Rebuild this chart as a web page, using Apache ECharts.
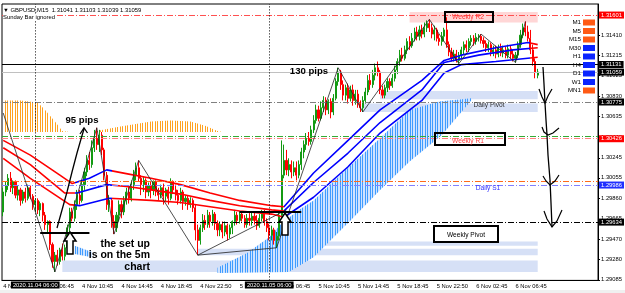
<!DOCTYPE html>
<html>
<head>
<meta charset="utf-8">
<script src="https://cdn.jsdelivr.net/npm/echarts@6/dist/echarts.min.js"></script>
<style>
html,body{margin:0;padding:0;background:#fff}
#chart{width:625px;height:293px}
</style>
</head>
<body>
<div id="chart"></div>
<script>
// GBPUSD M15, 4 - 6 Nov 2020
const xLabels = ['4 Nov 02:45','4 Nov 06:45','4 Nov 10:45','4 Nov 14:45','4 Nov 18:45','4 Nov 22:50',
  '5 Nov 02:45','5 Nov 06:45','5 Nov 10:45','5 Nov 14:45','5 Nov 18:45','5 Nov 22:50','6 Nov 02:45','6 Nov 06:45'];
const yTicks = [1.29085,1.29280,1.29470,1.29665,1.29860,1.30055,1.30245,1.30440,1.30635,1.30830,1.31025,1.31215,1.31410];

// [open, close, low, high]
const candles = [
[1.2973,1.2992,1.2969,1.2996],[1.2992,1.2998,1.2988,1.3002],[1.2998,1.3005,1.2994,1.3009],[1.3005,1.2996,1.2992,1.3011],
[1.2996,1.3002,1.2990,1.3003],[1.3002,1.2989,1.2986,1.3003],[1.2989,1.2994,1.2984,1.2998],[1.2994,1.2984,1.2979,1.2996],
[1.2984,1.2992,1.2981,1.2994],[1.2992,1.2986,1.2982,1.2996],[1.2986,1.2996,1.2984,1.2999],[1.2996,1.2988,1.2985,1.2998],
[1.2988,1.2980,1.2975,1.2990],[1.2980,1.2984,1.2973,1.2986],[1.2984,1.2975,1.2971,1.2986],[1.2975,1.2981,1.2969,1.2983],
[1.2981,1.2970,1.2964,1.2982],[1.2970,1.2961,1.2956,1.2973],[1.2961,1.2964,1.2954,1.2965],[1.2964,1.2942,1.2937,1.2965],
[1.2942,1.2926,1.2920,1.2944],[1.2926,1.2932,1.2916,1.2935],[1.2932,1.2926,1.2922,1.2937],[1.2926,1.2937,1.2923,1.2939],
[1.2937,1.2931,1.2927,1.2943],[1.2931,1.2939,1.2927,1.2942],[1.2939,1.2958,1.2935,1.2961],[1.2958,1.2973,1.2954,1.2977],
[1.2973,1.2967,1.2964,1.2977],[1.2967,1.2980,1.2964,1.2984],[1.2980,1.2989,1.2975,1.2994],[1.2989,1.2984,1.2980,1.2994],
[1.2984,1.2999,1.2982,1.3003],[1.2999,1.3011,1.2994,1.3015],[1.3011,1.3022,1.3007,1.3027],[1.3022,1.3018,1.3013,1.3030],
[1.3018,1.3034,1.3015,1.3041],[1.3034,1.3043,1.3030,1.3051],[1.3043,1.3037,1.3032,1.3053],[1.3037,1.3046,1.3030,1.3051],
[1.3046,1.3032,1.3027,1.3049],[1.3032,1.3008,1.3003,1.3034],[1.3008,1.2980,1.2975,1.3011],[1.2980,1.2984,1.2973,1.2989],
[1.2984,1.2964,1.2958,1.2986],[1.2964,1.2958,1.2952,1.2970],[1.2958,1.2970,1.2954,1.2973],[1.2970,1.2980,1.2964,1.2984],
[1.2980,1.2973,1.2967,1.2984],[1.2973,1.2984,1.2970,1.2988],[1.2984,1.2992,1.2980,1.2996],[1.2992,1.2986,1.2981,1.2998],
[1.2986,1.2999,1.2983,1.3003],[1.2999,1.3008,1.2994,1.3013],[1.3008,1.3015,1.3003,1.3020],[1.3015,1.3005,1.3002,1.3022],
[1.3005,1.2999,1.2989,1.3008],[1.2999,1.3003,1.2992,1.3007],[1.3003,1.2992,1.2986,1.3005],[1.2992,1.2998,1.2988,1.3001],
[1.2998,1.2994,1.2986,1.3002],[1.2994,1.3002,1.2989,1.3003],[1.3002,1.2992,1.2988,1.3003],[1.2992,1.2989,1.2984,1.2996],
[1.2989,1.2996,1.2986,1.2999],[1.2996,1.2988,1.2980,1.3000],[1.2988,1.2994,1.2983,1.2996],[1.2994,1.2986,1.2980,1.2997],
[1.2986,1.3002,1.2984,1.3005],[1.3002,1.2994,1.2990,1.3003],[1.2994,1.2989,1.2984,1.2999],[1.2989,1.2984,1.2980,1.2994],
[1.2984,1.2992,1.2981,1.2996],[1.2992,1.2983,1.2975,1.2994],[1.2983,1.2986,1.2979,1.2989],[1.2986,1.2980,1.2975,1.2989],
[1.2980,1.2984,1.2977,1.2987],[1.2984,1.2977,1.2973,1.2986],[1.2977,1.2956,1.2946,1.2980],[1.2956,1.2946,1.2932,1.2961],
[1.2946,1.2958,1.2942,1.2961],[1.2958,1.2965,1.2954,1.2971],[1.2965,1.2961,1.2956,1.2970],[1.2961,1.2970,1.2958,1.2975],
[1.2970,1.2964,1.2958,1.2973],[1.2964,1.2971,1.2960,1.2975],[1.2971,1.2962,1.2956,1.2973],[1.2962,1.2956,1.2950,1.2965],
[1.2956,1.2961,1.2950,1.2964],[1.2961,1.2954,1.2948,1.2964],[1.2954,1.2960,1.2950,1.2964],[1.2960,1.2952,1.2946,1.2962],
[1.2952,1.2958,1.2948,1.2961],[1.2958,1.2964,1.2952,1.2965],[1.2964,1.2970,1.2960,1.2975],[1.2970,1.2965,1.2961,1.2973],
[1.2965,1.2971,1.2962,1.2974],[1.2971,1.2967,1.2964,1.2973],[1.2967,1.2961,1.2958,1.2970],[1.2961,1.2967,1.2958,1.2971],
[1.2967,1.2965,1.2960,1.2972],[1.2965,1.2969,1.2960,1.2973],[1.2969,1.2965,1.2961,1.2973],[1.2965,1.2960,1.2956,1.2970],
[1.2960,1.2967,1.2958,1.2971],[1.2967,1.2971,1.2964,1.2975],[1.2971,1.2964,1.2960,1.2975],[1.2964,1.2958,1.2954,1.2967],
[1.2958,1.2951,1.2946,1.2962],[1.2951,1.2956,1.2946,1.2960],[1.2956,1.2946,1.2942,1.2958],[1.2946,1.2950,1.2939,1.2954],
[1.2950,1.2970,1.2946,1.2973],[1.2970,1.3008,1.2967,1.3041],[1.3008,1.3022,1.3005,1.3037],[1.3022,1.3013,1.3008,1.3032],
[1.3013,1.3018,1.3007,1.3024],[1.3018,1.3011,1.3005,1.3022],[1.3011,1.3015,1.3007,1.3021],[1.3015,1.3008,1.3003,1.3021],
[1.3008,1.3018,1.3005,1.3022],[1.3018,1.3030,1.3013,1.3034],[1.3030,1.3037,1.3024,1.3041],[1.3037,1.3043,1.3032,1.3048],
[1.3043,1.3040,1.3036,1.3049],[1.3040,1.3051,1.3037,1.3055],[1.3051,1.3060,1.3048,1.3065],[1.3060,1.3070,1.3057,1.3075],
[1.3070,1.3062,1.3059,1.3074],[1.3062,1.3072,1.3060,1.3078],[1.3072,1.3079,1.3068,1.3083],[1.3079,1.3070,1.3065,1.3082],
[1.3070,1.3078,1.3066,1.3080],[1.3078,1.3068,1.3062,1.3081],[1.3068,1.3081,1.3065,1.3085],[1.3081,1.3097,1.3079,1.3100],
[1.3097,1.3106,1.3093,1.3110],[1.3106,1.3094,1.3089,1.3108],[1.3094,1.3084,1.3079,1.3098],[1.3084,1.3091,1.3079,1.3094],
[1.3091,1.3081,1.3076,1.3095],[1.3081,1.3089,1.3078,1.3093],[1.3089,1.3079,1.3074,1.3094],[1.3079,1.3085,1.3075,1.3089],
[1.3085,1.3076,1.3072,1.3089],[1.3076,1.3072,1.3068,1.3079],[1.3072,1.3079,1.3068,1.3083],[1.3079,1.3087,1.3076,1.3091],
[1.3087,1.3098,1.3084,1.3103],[1.3098,1.3094,1.3089,1.3104],[1.3094,1.3103,1.3091,1.3108],[1.3103,1.3110,1.3098,1.3114],
[1.3110,1.3106,1.3102,1.3116],[1.3106,1.3089,1.3085,1.3108],[1.3089,1.3084,1.3081,1.3093],[1.3084,1.3091,1.3081,1.3094],
[1.3091,1.3097,1.3087,1.3100],[1.3097,1.3093,1.3089,1.3100],[1.3093,1.3100,1.3091,1.3104],[1.3100,1.3108,1.3097,1.3112],
[1.3108,1.3116,1.3104,1.3119],[1.3116,1.3122,1.3112,1.3127],[1.3122,1.3119,1.3116,1.3129],[1.3119,1.3127,1.3117,1.3131],
[1.3127,1.3135,1.3123,1.3138],[1.3135,1.3131,1.3127,1.3140],[1.3131,1.3138,1.3129,1.3143],[1.3138,1.3144,1.3135,1.3148],
[1.3144,1.3140,1.3136,1.3149],[1.3140,1.3146,1.3136,1.3150],[1.3146,1.3142,1.3138,1.3151],[1.3142,1.3148,1.3139,1.3153],
[1.3148,1.3152,1.3144,1.3155],[1.3152,1.3148,1.3144,1.3156],[1.3148,1.3142,1.3138,1.3152],[1.3142,1.3146,1.3136,1.3150],
[1.3146,1.3138,1.3135,1.3148],[1.3138,1.3135,1.3131,1.3142],[1.3135,1.3140,1.3131,1.3144],[1.3140,1.3146,1.3135,1.3148],
[1.3146,1.3132,1.3129,1.3158],[1.3132,1.3125,1.3121,1.3135],[1.3125,1.3119,1.3116,1.3129],[1.3119,1.3123,1.3116,1.3127],
[1.3123,1.3117,1.3115,1.3127],[1.3117,1.3122,1.3114,1.3125],[1.3122,1.3127,1.3119,1.3130],[1.3127,1.3132,1.3123,1.3135],
[1.3132,1.3129,1.3125,1.3136],[1.3129,1.3135,1.3125,1.3138],[1.3135,1.3138,1.3131,1.3141],[1.3138,1.3135,1.3131,1.3141],
[1.3135,1.3139,1.3132,1.3143],[1.3139,1.3140,1.3135,1.3142],[1.3140,1.3136,1.3133,1.3142],[1.3136,1.3133,1.3129,1.3139],
[1.3133,1.3129,1.3125,1.3136],[1.3129,1.3132,1.3125,1.3135],[1.3132,1.3125,1.3121,1.3134],[1.3125,1.3127,1.3121,1.3131],
[1.3127,1.3123,1.3119,1.3131],[1.3123,1.3129,1.3120,1.3132],[1.3129,1.3124,1.3121,1.3133],[1.3124,1.3127,1.3120,1.3131],
[1.3127,1.3122,1.3119,1.3130],[1.3122,1.3128,1.3119,1.3132],[1.3128,1.3123,1.3119,1.3131],[1.3123,1.3119,1.3116,1.3127],
[1.3119,1.3122,1.3115,1.3125],[1.3122,1.3132,1.3119,1.3135],[1.3132,1.3141,1.3129,1.3146],[1.3141,1.3148,1.3138,1.3152],
[1.3148,1.3144,1.3140,1.3154],[1.3144,1.3138,1.3135,1.3150],[1.3138,1.3127,1.3123,1.3146],[1.3127,1.3116,1.3112,1.3132],
[1.3116,1.3106,1.3100,1.3119],[1.3103,1.3106,1.3100,1.3109]
];

// moving averages, read at [bar, price]
const maFast = [[0,1.3041],[11,1.3027],[23,1.3008],[28,1.3000],[35,1.3005],[42,1.3013],[51,1.3009],[60,1.3005],[72,1.2999],[84,1.2991],[96,1.2984],[109,1.2979],[114,1.2978],[126,1.3010],[140,1.3041],[153,1.3070],[170,1.3098],[179,1.3117],[186,1.3122],[200,1.3129],[213,1.3134],[217,1.3132]];
const maMid = [[0,1.3034],[11,1.3018],[25,1.2991],[30,1.2991],[42,1.2999],[51,1.2997],[60,1.2994],[72,1.2990],[84,1.2984],[96,1.2979],[109,1.2975],[114,1.2974],[126,1.3001],[140,1.3029],[153,1.3058],[170,1.3089],[179,1.3115],[193,1.3122],[207,1.3127],[217,1.3129]];
const maSlow = [[0,1.3024],[11,1.3005],[27,1.2980],[31,1.2979],[43,1.2986],[60,1.2984],[72,1.2982],[84,1.2978],[96,1.2974],[109,1.2971],[114,1.2968],[126,1.2987],[140,1.3016],[153,1.3048],[170,1.3079],[179,1.3105],[186,1.3113],[200,1.3116],[217,1.3120]];

const zigzag = [[0,1.3067],[21,1.2916],[38,1.3053],[45,1.2952],[55,1.3022],[79,1.2932],[111,1.2939],[136,1.3110],[146,1.3068],[173,1.3156],[185,1.3114],[194,1.3142],[208,1.3115],[212,1.3154]];
const trendLine = [[79,1.2932],[115,1.2975]];
const setupLine1 = [[15,1.2953],[35,1.2953]];
const setupLine2 = [[96,1.2973],[121,1.2973]];

const levelValues = [1.31601,1.31131,1.31059,1.30775,1.30447,1.30426,1.30025,1.29986,1.29634];
const vLineBars = [13,108];
const vLineLabels = ['2020.11.04 06:00','2020.11.05 06:00'];

const orangeTop = [[0,1.3079],[7,1.3079],[14,1.3077],[17,1.3070],[21,1.3059],[24,1.3050],[27,1.3049],[37,1.3049],[40,1.3051],[47,1.3054],[60,1.3059],[68,1.3060],[76,1.3059],[82,1.3055],[87,1.3050],[89,1.3049]];
const orangeBottom = [[0,1.3049],[89,1.3049]];
const blueTop = [[87,1.2920],[99,1.2934],[108,1.2949],[113,1.2962],[120,1.2975],[126,1.2984],[139,1.3013],[153,1.3043],[165,1.3070],[177,1.3078],[190,1.3081]];
const blueBottom = [[87,1.2915],[116,1.2916],[126,1.2930],[141,1.2965],[153,1.2994],[165,1.3021],[178,1.3046],[190,1.3079]];
const blueSmallTop = [[29,1.2941],[36,1.2935]];
const blueSmallBottom = [[29,1.2933],[36,1.2930]];

// [fromBar, toBar, upperPrice, lowerPrice]
const zoneRects = [[165,217,1.3163,1.3153],[153,217,1.3088,1.3080],[146,217,1.3076,1.3068],[108,217,1.2945,1.2941],[79,217,1.2938,1.2932],[24,217,1.2927,1.2916]];

const tfNames = ['M1','M5','M15','M30','H1','H4','D1','W1','MN1'];
const tfUp = [false,false,false,true,true,true,true,true,false];

const FONT = '"Liberation Sans", "DejaVu Sans", sans-serif';
const dashDot = [6,2,1,2];
const levelStyles = [
  {color:'#ff5050', type:dashDot, tag:'#ff0000'},
  {color:'#000000', type:'solid', tag:'#000000'},
  {color:'#c0c0c0', type:'solid', tag:'#000000'},
  {color:'#808080', type:dashDot, tag:'#000000'},
  {color:'#33aa33', type:dashDot, tag:null},
  {color:'#ff8080', type:dashDot, tag:'#ff0000'},
  {color:'#ff6a1a', type:dashDot, tag:null},
  {color:'#8080ff', type:dashDot, tag:'#2030ff'},
  {color:'#000000', type:dashDot, tag:'#000000'}
];
const zoneColors = ['#ffd6d6','#d6e0f6','#d6e0f6','#d6e0f6','#d6e0f6','#d6e0f6'];

function stripes(line, back) {
  const c = document.createElement('canvas');
  c.width = 5; c.height = 2;
  const g = c.getContext('2d');
  if (back) { g.fillStyle = back; g.fillRect(0, 0, 5, 2); }
  g.fillStyle = line;
  g.fillRect(0, 0, 1, 2);
  g.fillRect(2, 0, 1, 2);
  return { image: c, repeat: 'repeat' };
}

function cloud(top, bottom, fill) {
  return {
    type: 'custom', z: 1, silent: true, clip: true,
    data: [top[0]],
    renderItem: function (params, api) {
      const pts = top.map(p => api.coord(p)).concat(bottom.slice().reverse().map(p => api.coord(p)));
      return { type: 'polygon', shape: { points: pts }, style: { fill: fill } };
    }
  };
}

const cats = [];
for (let i = 0; i < 242; i++) cats.push(i);
const tickShown = i => i % 16 === 0 && i / 16 < xLabels.length;

const levelLines = levelValues.map((v, k) => ({
  yAxis: v,
  lineStyle: { color: levelStyles[k].color, type: levelStyles[k].type, width: 1 },
  label: levelStyles[k].tag ? {
    show: true, position: 'end', formatter: v.toFixed(5), distance: 1,
    backgroundColor: levelStyles[k].tag, color: '#fff', fontSize: 5.8, fontFamily: FONT, padding: [1, 2, 0, 2]
  } : { show: false }
}));
const vLines = vLineBars.map((b, k) => ({
  xAxis: b,
  lineStyle: { color: '#000', type: [1, 2], width: 1 },
  label: { show: true, position: 'start', formatter: vLineLabels[k], distance: 1,
    backgroundColor: '#000', color: '#fff', fontSize: 5.8, fontFamily: FONT, padding: [1, 2, 0, 2] }
}));

const chart = echarts.init(document.getElementById('chart'));

// hand drawn notes, in screen pixels
function txt(x, y, text, extra) {
  return { type: 'text', x: x, y: y, z: 100, silent: true,
    style: Object.assign({ text: text, fill: '#000', fontSize: 6.6, fontFamily: FONT, align: 'center', verticalAlign: 'middle' }, extra || {}) };
}
function pline(points, w) {
  return { type: 'polyline', z: 100, silent: true, shape: { points: points }, style: { stroke: '#000', lineWidth: w || 1.2, fill: null } };
}
function box(x, y, w, h) {
  return { type: 'rect', z: 100, silent: true, shape: { x: x, y: y, width: w, height: h }, style: { stroke: '#000', lineWidth: 2, fill: null } };
}
function hollowArrow(x, y) {
  return { type: 'polygon', z: 100, silent: true,
    shape: { points: [[x, y], [x + 6, y + 9], [x + 3, y + 9], [x + 3, y + 22], [x - 3, y + 22], [x - 3, y + 9], [x - 6, y + 9]] },
    style: { stroke: '#000', lineWidth: 1.5, fill: '#fff' } };
}

const graphics = [
  { type: 'rect', z: 90, silent: true, shape: { x: 0, y: 290, width: 625, height: 3 }, style: { fill: '#f0f0f0' } },
  txt(3, 10, '\u25BC GBPUSD,M15  1.31041 1.31103 1.31039 1.31059', { align: 'left', fontSize: 5.9 }),
  txt(3, 17, 'Sunday Bar ignored', { align: 'left', fontSize: 5.9, backgroundColor: '#fff' }),
  txt(82, 120, '95 pips', { fontSize: 9.6, fontWeight: 'bold' }),
  txt(309, 71, '130 pips', { fontSize: 9.6, fontWeight: 'bold' }),
  txt(150, 238, 'the set up\nis on the 5m\nchart', { fontSize: 10.5, fontWeight: 'bold', align: 'right', verticalAlign: 'top', lineHeight: 11.6 }),
  box(445, 12, 48, 10),
  txt(468, 17, 'Weekly R2', { fill: '#ff3030' }),
  box(435, 133, 70, 12),
  txt(468, 141, 'Weekly R1', { fill: '#ff4040' }),
  txt(489, 105, 'Daily Pivot', { fill: '#333' }),
  txt(488, 188, 'Daily S1', { fill: '#3030ff' }),
  box(434, 226, 64, 16),
  txt(466, 235, 'Weekly Pivot'),
  hollowArrow(70, 232),
  hollowArrow(285, 213),
  pline([[57, 228], [62, 210], [67, 192], [72, 172], [77, 153], [81, 139], [84, 129]], 1.3),
  pline([[80, 134], [84, 128], [87.5, 133]], 1.3),
  pline([[543, 67], [544, 84], [545, 103], [546, 120], [547, 135], [548, 155], [550, 180], [551, 203], [552, 227]], 1.3),
  pline([[539, 89], [542, 97], [545, 103], [548, 96], [552, 89]], 1.2),
  pline([[542, 127], [544, 132], [548, 135], [553, 133], [559, 128]], 1.2),
  pline([[543, 176], [546, 181], [550, 185], [555, 181], [559, 175]], 1.2),
  pline([[544, 211], [547, 219], [552, 227], [557, 221], [562, 210]], 1.2)
];
tfNames.forEach((n, k) => {
  const y = 22.5 + 8.5 * k;
  graphics.push(txt(581, y, n, { align: 'right', fontSize: 6.2 }));
  graphics.push({ type: 'rect', z: 100, silent: true, shape: { x: 583, y: y - 3, width: 12, height: 6 },
    style: { fill: tfUp[k] ? '#0a24ff' : '#ff5a14' } });
});

const option = {
  animation: false,
  backgroundColor: '#fff',
  textStyle: { fontFamily: FONT },
  grid: { left: 2, right: 26, top: 4, bottom: 12.6, show: true, borderColor: '#000', borderWidth: 1, backgroundColor: '#fff' },
  xAxis: {
    type: 'category', data: cats, boundaryGap: true,
    axisLine: { lineStyle: { color: '#000' } },
    axisTick: { alignWithLabel: true, interval: tickShown, length: 3, lineStyle: { color: '#000' } },
    axisLabel: { interval: tickShown, formatter: (v, i) => xLabels[i / 16], align: 'left',
      fontSize: 5.8, color: '#000', margin: 3, fontFamily: FONT },
    splitLine: { show: false }
  },
  yAxis: {
    type: 'value', position: 'right', min: 1.29080, max: 1.31706,
    axisLine: { show: true, lineStyle: { color: '#000' } },
    axisTick: { show: true, customValues: yTicks, length: 2, lineStyle: { color: '#000' } },
    axisLabel: { customValues: yTicks, formatter: v => v.toFixed(5), fontSize: 5.8, color: '#000', margin: 3, fontFamily: FONT },
    splitLine: { show: false }
  },
  visualMap: {
    type: 'piecewise', show: false, dimension: 0, seriesIndex: [5, 6, 7],
    pieces: [
      { lt: 29, color: '#ff0000' },
      { gte: 29, lt: 44, color: '#0000ff' },
      { gte: 44, lt: 114, color: '#ff0000' },
      { gte: 114, lt: 214, color: '#0000ff' },
      { gte: 214, color: '#ff0000' }
    ]
  },
  series: [
    {
      type: 'custom', z: 0, silent: true, data: zoneRects, encode: { x: [0, 1], y: [2, 3] },
      renderItem: function (params, api) {
        const r = zoneRects[params.dataIndex];
        const a = api.coord([r[0], r[2]]);
        const b = api.coord([r[1], r[3]]);
        return { type: 'rect', shape: { x: a[0], y: a[1], width: b[0] - a[0], height: b[1] - a[1] },
          style: { fill: zoneColors[params.dataIndex] } };
      }
    },
    cloud(orangeTop, orangeBottom, stripes('#ffa21f', null)),
    cloud(blueTop, blueBottom, stripes('#3f9cff', '#cfe3ff')),
    cloud(blueSmallTop, blueSmallBottom, stripes('#3f9cff', '#cfe3ff')),
    {
      type: 'candlestick', data: candles, z: 2, barWidth: 1.6, silent: true,
      itemStyle: { color: '#139a13', color0: '#ff0000', borderColor: '#139a13', borderColor0: '#ff0000', borderWidth: 1 },
      markLine: { silent: true, precision: 5, symbol: ['none', 'none'], animation: false, data: levelLines.concat(vLines) }
    },
    { type: 'line', data: maFast, z: 4, symbol: 'none', silent: true, lineStyle: { width: 1.6 } },
    { type: 'line', data: maMid, z: 4, symbol: 'none', silent: true, lineStyle: { width: 1.6 } },
    { type: 'line', data: maSlow, z: 4, symbol: 'none', silent: true, lineStyle: { width: 1.6 } },
    { type: 'line', data: zigzag, z: 5, symbol: 'none', silent: true, lineStyle: { color: '#222', width: 0.8 } },
    { type: 'line', data: trendLine, z: 5, symbol: 'none', silent: true, lineStyle: { color: '#222', width: 0.8 } },
    { type: 'line', data: setupLine1, z: 6, symbol: 'none', silent: true, lineStyle: { color: '#000', width: 2 } },
    { type: 'line', data: setupLine2, z: 6, symbol: 'none', silent: true, lineStyle: { color: '#000', width: 2 } }
  ],
  graphic: graphics
};

chart.setOption(option);
</script>
</body>
</html>
